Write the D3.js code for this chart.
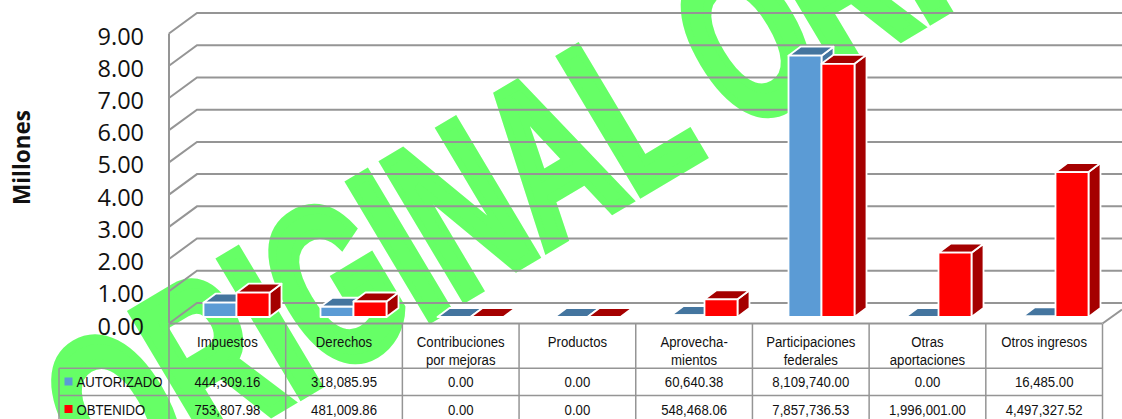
<!DOCTYPE html>
<html>
<head>
<meta charset="utf-8">
<script src="https://cdn.jsdelivr.net/npm/d3@7"></script>
<style>
  html, body { margin: 0; padding: 0; background: #fff; }
  svg { display: block; }
</style>
</head>
<body>
<svg id="chart" width="1122" height="419"></svg>
<script>
const categories = ['Impuestos', 'Derechos', 'Contribuciones\npor mejoras', 'Productos', 'Aprovecha-\nmientos', 'Participaciones\nfederales', 'Otras\naportaciones', 'Otros ingresos'];
const autorizado = [444309.16, 318085.95, 0, 0, 60640.38, 8109740, 0, 16485];
const obtenido = [753807.98, 481009.86, 0, 0, 548468.06, 7857736.53, 1996001, 4497327.52];
const autorizadoLabels = ['444,309.16', '318,085.95', '0.00', '0.00', '60,640.38', '8,109,740.00', '0.00', '16,485.00'];
const obtenidoLabels = ['753,807.98', '481,009.86', '0.00', '0.00', '548,468.06', '7,857,736.53', '1,996,001.00', '4,497,327.52'];
const yTicks = [0, 1, 2, 3, 4, 5, 6, 7, 8, 9];

const WALL_DX = 28;
const WALL_DY = -20.5;
const BAR_DX = 12;
const BAR_DY = -9;
const BAR_W = 33;
const GRID_COLOR = '#959595';
const TABLE_FONT = '"Liberation Sans", Arial, sans-serif';
const TABLE_SQUEEZE = 0.85;

const svg = d3.select('#chart');

const x = d3.scaleBand().domain(d3.range(categories.length)).range([169, 1102.5]);
const xBars = d3.scaleBand().domain(d3.range(categories.length)).range([178, 1114]);
const y = d3.scaleLinear().domain([0, 9]).range([323.5, 33.5]);
const millions = v => v / 1e6;

// watermark goes first, the whole chart sits on top of it
svg.append('text')
  .attr('transform', 'translate(109,509) rotate(-30.8) scale(0.63,1)')
  .attr('font-family', '"Liberation Sans", Arial, sans-serif')
  .attr('font-weight', 700)
  .attr('font-size', 226)
  .attr('fill', '#66ff66')
  .attr('stroke', '#66ff66')
  .attr('stroke-width', 9)
  .attr('stroke-linejoin', 'miter')
  .attr('vector-effect', 'non-scaling-stroke')
  .text('ORIGINAL ORIGINAL');

// walls
const grid = svg.append('g').attr('fill', 'none').attr('stroke', GRID_COLOR).attr('stroke-width', 2);
grid.selectAll('path')
  .data(yTicks)
  .enter()
  .append('path')
  .attr('d', d => `M169,${y(d)}l${WALL_DX},${WALL_DY}H1122`);
grid.append('line')
  .attr('x1', 169).attr('x2', 169)
  .attr('y1', y(9)).attr('y2', y(0));
grid.append('line')
  .attr('x1', 169).attr('x2', 1102.5)
  .attr('y1', y(0)).attr('y2', y(0));
grid.append('line')
  .attr('x1', 1102.5).attr('x2', 1122)
  .attr('y1', y(0)).attr('y2', y(0) - 14);

// y axis
const yAxis = d3.axisLeft(y).tickValues(yTicks).tickSize(0).tickPadding(25).tickFormat(d3.format('.2f'));
const yAxisGroup = svg.append('g').attr('transform', 'translate(169,3)').call(yAxis);
yAxisGroup.select('.domain').remove();
yAxisGroup.selectAll('text')
  .attr('font-family', '"Open Sans", sans-serif')
  .attr('font-size', 23.5)
  .attr('fill', '#111');

svg.append('text')
  .attr('transform', 'translate(30,157.5) rotate(-90)')
  .attr('text-anchor', 'middle')
  .attr('font-family', '"Open Sans", sans-serif')
  .attr('font-weight', 700)
  .attr('font-size', 22.5)
  .attr('fill', '#111')
  .text('Millones');

// bars, blue one first so the red overlaps it
function drawBar(g, left, width, value, front, top, side) {
  const y0 = y(0) - 6.5;
  const y1 = y(value) - 6.5;
  g.append('path').attr('fill', side)
    .attr('d', `M${left + width},${y1}l${BAR_DX},${BAR_DY}V${y0 + BAR_DY}l${-BAR_DX},${-BAR_DY}Z`);
  g.append('path').attr('fill', top)
    .attr('d', `M${left},${y1}l${BAR_DX},${BAR_DY}h${width}l${-BAR_DX},${-BAR_DY}Z`);
  if (value > 0) {
    g.append('rect').attr('fill', front)
      .attr('x', left).attr('y', y1)
      .attr('width', width).attr('height', y0 - y1);
  }
}

const barGroup = svg.append('g').attr('stroke', '#fff').attr('stroke-width', 1.8).attr('stroke-linejoin', 'round');
categories.forEach((c, i) => {
  const center = xBars(i) + xBars.bandwidth() / 2;
  const g = barGroup.append('g');
  drawBar(g, center - BAR_W, BAR_W, millions(autorizado[i]), '#5b9bd5', '#44759f', '#44759f');
  drawBar(g, center, BAR_W, millions(obtenido[i]), '#ff0000', '#a50000', '#a50000');
});

// data table
const rowY = [324, 368.3, 395.6, 425];
const table = svg.append('g').attr('stroke', GRID_COLOR).attr('stroke-width', 1.5).attr('fill', 'none');
d3.range(categories.length + 1).forEach(i => {
  const xPos = i < categories.length ? x(i) : x.range()[1];
  table.append('line').attr('x1', xPos).attr('x2', xPos).attr('y1', rowY[0]).attr('y2', rowY[3]);
});
table.append('line').attr('x1', 59).attr('x2', 59).attr('y1', rowY[1]).attr('y2', rowY[3]);
[rowY[1], rowY[2]].forEach(r => {
  table.append('line').attr('x1', 59).attr('x2', x.range()[1]).attr('y1', r).attr('y2', r);
});

const tableText = svg.append('g')
  .attr('font-family', TABLE_FONT)
  .attr('font-size', 15.5)
  .attr('fill', '#111');

function cell(px, py, str, anchor) {
  tableText.append('text')
    .attr('transform', `translate(${px},${py}) scale(${TABLE_SQUEEZE},1)`)
    .attr('text-anchor', anchor)
    .text(str);
}

categories.forEach((c, i) => {
  const mid = x(i) + x.bandwidth() / 2;
  c.split('\n').forEach((line, n) => cell(mid, 347 + n * 18, line, 'middle'));
  cell(mid, 387, autorizadoLabels[i], 'middle');
  cell(mid, 415, obtenidoLabels[i], 'middle');
});

const legendNames = ['AUTORIZADO', 'OBTENIDO'];
const legendColors = ['#5b9bd5', '#ff0000'];
const legendText = [387, 415];
const legendBox = [377.5, 405];
legendNames.forEach((name, i) => {
  svg.append('rect')
    .attr('x', 64.5).attr('y', legendBox[i])
    .attr('width', 8).attr('height', 8)
    .attr('fill', legendColors[i]);
  cell(76.5, legendText[i], name, 'start');
});
</script>
</body>
</html>
